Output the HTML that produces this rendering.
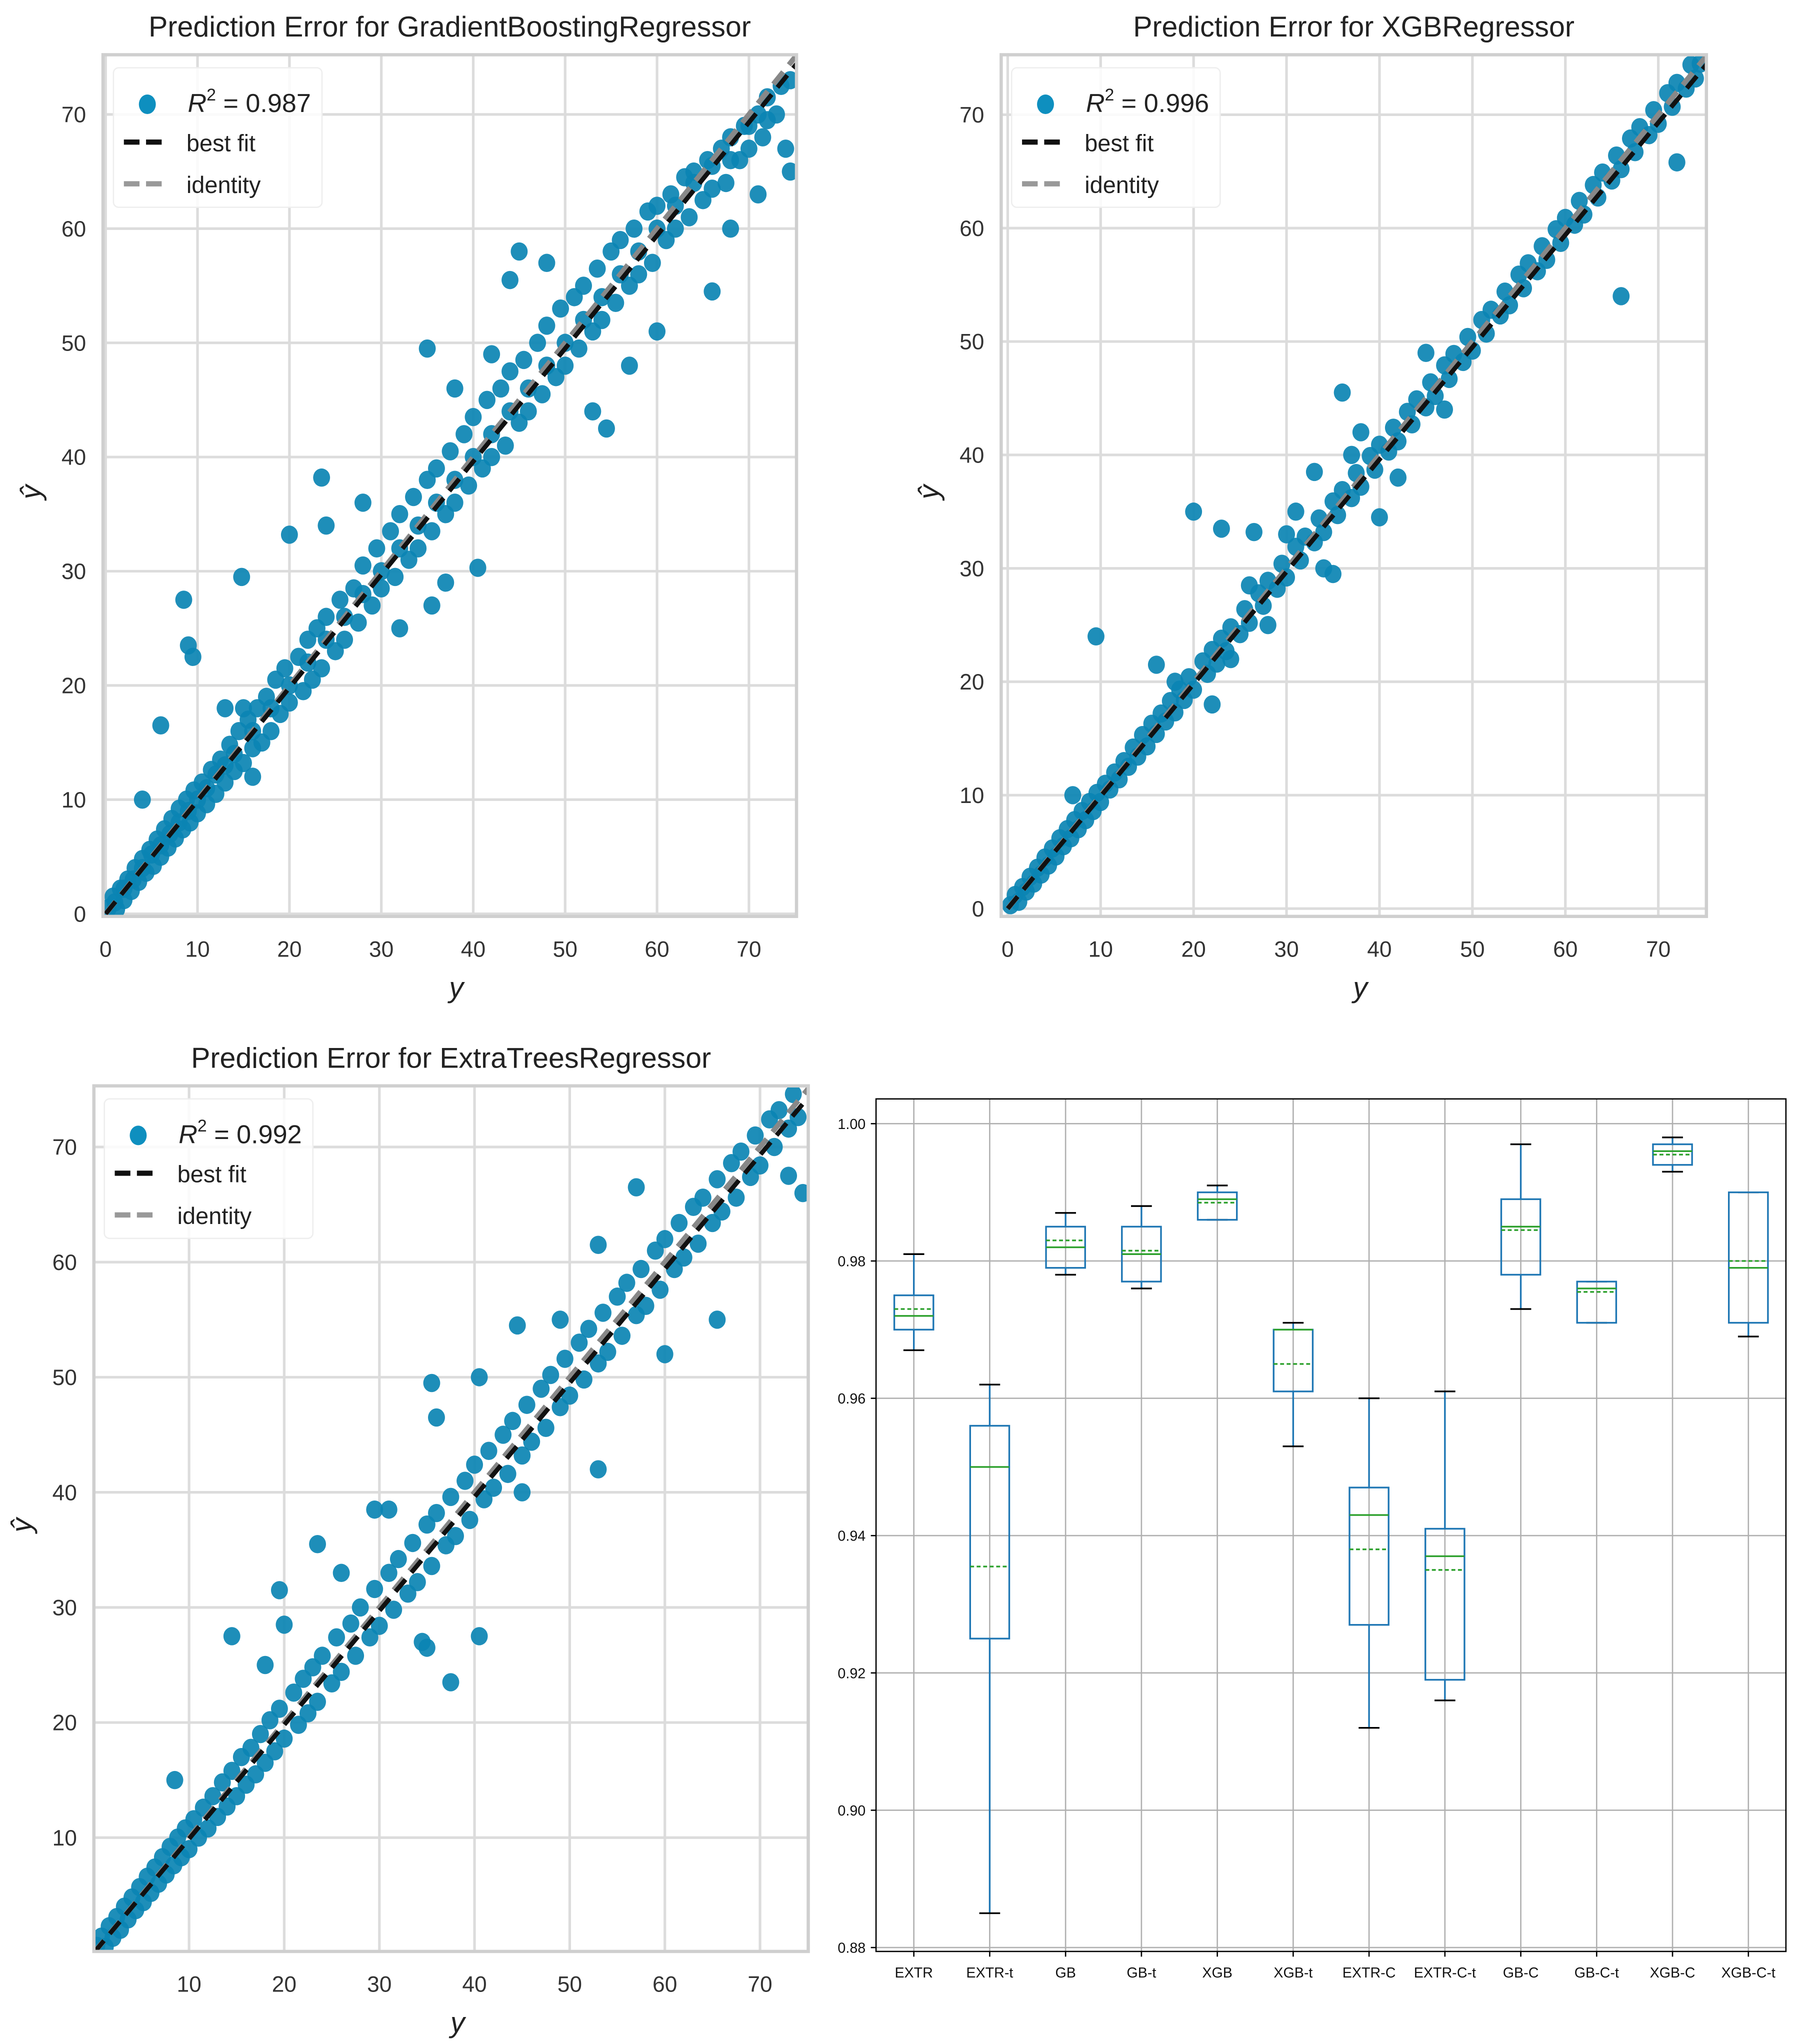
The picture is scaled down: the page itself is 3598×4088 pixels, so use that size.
<!DOCTYPE html>
<html><head><meta charset="utf-8">
<style>
html,body{margin:0;padding:0;background:#fff;}
svg{display:block;font-family:"Liberation Sans","DejaVu Sans",sans-serif;}
</style></head>
<body>
<svg id="fig" width="3598" height="4088" viewBox="0 0 1380 1568" xmlns="http://www.w3.org/2000/svg"></svg>
<script>
// ---------- Data: GradientBoosting panel  [y, yhat] ----------
const gbPoints = [
[0.3,0.5],[0.8,1.5],[1.2,0.4],[1.6,2.2],[2,1.2],[2.4,3],[2.8,2],[3.2,4],[3.6,2.8],[4,4.8],[4.4,3.6],[4.8,5.6],[5.2,4.2],[5.6,6.5],[6,5],[6.4,7.4],[6.8,5.8],[7.2,8.3],[7.6,6.6],[8,9.2],[8.4,7.4],[8.8,10],[9.2,8],[9.6,10.8],[10,8.8],[10.5,11.5],[11,9.6],[11.5,12.6],[12,10.5],[12.5,13.5],[13,11.5],[13.5,14.8],[14,12.5],[14.5,16],[15,13.2],[15.5,17],[16,14.5],[16.5,18],[17,15],[17.5,19],[18,16],[18.5,20.5],[19,17.5],[19.5,21.5],[20,18.5],[21,22.5],[21.5,19.5],[22,24],[22.5,20.5],[23,25],[23.5,21.5],[24,26],[25,23],[25.5,27.5],[26,24],[27,28.5],[27.5,25.5],[28,30.5],[29,27],[29.5,32],[30,28.5],[31,33.5],[31.5,29.5],[32,35],[33,31],[33.5,36.5],[34,32],[35,38],[35.5,33.5],[36,39],[37,35],[37.5,40.5],[38,36],[39,42],[39.5,37.5],[40,43.5],[41,39],[41.5,45],[42,40],[43,46],[43.5,41],[44,47.5],[45,43],[45.5,48.5],[46,44],[47,50],[47.5,45.5],[48,51.5],[49,47],[49.5,53],[50,48],[51,54],[51.5,49.5],[52,55],[53,51],[53.5,56.5],[54,52],[55,58],[55.5,53.5],[56,59],[57,55],[57.5,60],[58,56],[59,61.5],[59.5,57],[60,62],[61,59],[61.5,63],[62,60],[63,64.5],[63.5,61],[64,65],[65,62.5],[65.5,66],[66,63.5],[67,67],[67.5,64],[68,68],[69,66],[69.5,69],[70,67],[71,70],[71.5,68],[72,71.5],[73,70],[73.5,72.5],[74,67],[74.5,73],
[1,1],[2,2.2],[3,3],[4,4],[5,5.2],[6,6],[7,7],[8,8],[9,9],[10,10],[11,11],[12,12.2],[13,13],[14,14],[16,16],[18,18],[20,20],[22,22],[24,24],[26,26],[28,28],[30,30],[32,32],[34,34],[36,36],[38,38],[40,40],[42,42],[44,44],[46,46],[48,48],[50,50],[52,52],[54,54],[56,56],[58,58],[60,60],[62,62],[64,64],[66,65.5],[68,66],[70,69],[72,69.5],
[8.5,27.5],[9,23.5],[9.5,22.5],[14.8,29.5],[20,33.2],[23.5,38.2],[40.5,30.3],[44,55.5],[35,49.5],[35.5,27],[45,58],[53,44],[54.5,42.5],[66,54.5],[60,51],[74.5,65],[6,16.5],[15,18],[13,18],[24,34],[28,36],[38,46],[42,49],[48,57],[57,48],[32,25],[37,29],[16,12],[4,10],[71,63],[68,60]
];
// ---------- Data: XGB panel ----------
const xgbPoints = [
[0.3,0.3],[0.8,1.2],[1.2,0.6],[1.6,1.9],[2,1.5],[2.4,2.8],[2.8,2.2],[3.2,3.6],[3.6,3],[4,4.5],[4.4,3.8],[4.8,5.3],[5.2,4.6],[5.6,6.2],[6,5.5],[6.4,7],[6.8,6.2],[7.2,7.8],[7.6,7],[8,8.6],[8.4,7.8],[8.8,9.4],[9.2,8.6],[9.6,10.2],[10,9.4],[10.5,11],[11,10.5],[11.5,12],[12,11.4],[12.5,13],[13,12.5],[13.5,14.2],[14,13.4],[14.5,15.3],[15,14.3],[15.5,16.3],[16,15.4],[16.5,17.2],[17,16.5],[17.5,18.3],[18,17.3],[18.5,19.3],[19,18.4],[19.5,20.4],[20,19.3],[21,21.8],[21.5,20.7],[22,22.8],[22.5,21.6],[23,23.8],[23.5,22.7],[24,24.8],[25,24.2],[25.5,26.4],[26,25.2],[27,27.8],[27.5,26.7],[28,28.9],[29,28.2],[29.5,30.4],[30,29.2],[31,31.9],[31.5,30.7],[32,32.8],[33,32.3],[33.5,34.4],[34,33.2],[35,35.9],[35.5,34.7],[36,36.9],[37,36.2],[37.5,38.4],[38,37.2],[39,39.9],[39.5,38.7],[40,40.9],[41,40.3],[41.5,42.4],[42,41.2],[43,43.8],[43.5,42.7],[44,44.9],[45,44.2],[45.5,46.4],[46,45.2],[47,47.9],[47.5,46.7],[48,48.9],[49,48.2],[49.5,50.4],[50,49.2],[51,51.9],[51.5,50.7],[52,52.8],[53,52.3],[53.5,54.4],[54,53.2],[55,55.9],[55.5,54.7],[56,56.9],[57,56.2],[57.5,58.4],[58,57.2],[59,59.9],[59.5,58.7],[60,60.9],[61,60.3],[61.5,62.4],[62,61.2],[63,63.8],[63.5,62.7],[64,64.9],[65,64.2],[65.5,66.4],[66,65.2],[67,67.9],[67.5,66.7],[68,68.9],[69,68.2],[69.5,70.4],[70,69.2],[71,71.9],[71.5,70.7],[72,72.8],[73,72.3],[73.5,74.4],[74,73.2],[74.5,74.5],
[9.5,24],[20,35],[23,33.5],[26.5,33.2],[36,45.5],[40,34.5],[16,21.5],[22,18],[33,38.5],[34,30],[35,29.5],[31,35],[28,25],[38,42],[30,33],[72,65.8],[66,54],[7,10],[18,20],[24,22],[45,49],[42,38],[47,44],[37,40],[26,28.5]
];
// ---------- Data: ExtraTrees panel ----------
const etPoints = [
[0.3,0.6],[0.8,1.4],[1.2,0.5],[1.6,2.3],[2,1.3],[2.4,3.1],[2.8,2],[3.2,4],[3.6,2.9],[4,4.8],[4.4,3.7],[4.8,5.7],[5.2,4.4],[5.6,6.6],[6,5.2],[6.4,7.4],[6.8,6],[7.2,8.3],[7.6,6.8],[8,9.2],[8.4,7.6],[8.8,10],[9.2,8.3],[9.6,10.8],[10,9],[10.5,11.6],[11,10],[11.5,12.6],[12,10.8],[12.5,13.6],[13,11.8],[13.5,14.8],[14,12.7],[14.5,15.8],[15,13.6],[15.5,17],[16,14.6],[16.5,17.8],[17,15.5],[17.5,19],[18,16.5],[18.5,20.2],[19,17.5],[19.5,21.2],[20,18.6],[21,22.6],[21.5,19.8],[22,23.8],[22.5,20.8],[23,24.8],[23.5,21.8],[24,25.8],[25,23.4],[25.5,27.4],[26,24.4],[27,28.6],[27.5,25.8],[28,30],[29,27.4],[29.5,31.6],[30,28.4],[31,33],[31.5,29.8],[32,34.2],[33,31.2],[33.5,35.6],[34,32.2],[35,37.2],[35.5,33.6],[36,38.2],[37,35.4],[37.5,39.6],[38,36.2],[39,41],[39.5,37.6],[40,42.4],[41,39.4],[41.5,43.6],[42,40.4],[43,45],[43.5,41.6],[44,46.2],[45,43.2],[45.5,47.6],[46,44.4],[47,49],[47.5,45.6],[48,50.2],[49,47.4],[49.5,51.6],[50,48.4],[51,53],[51.5,49.8],[52,54.2],[53,51.2],[53.5,55.6],[54,52.2],[55,57],[55.5,53.6],[56,58.2],[57,55.4],[57.5,59.4],[58,56.2],[59,61],[59.5,57.6],[60,62],[61,59.4],[61.5,63.4],[62,60.4],[63,64.8],[63.5,61.6],[64,65.6],[65,63.4],[65.5,67.2],[66,64.4],[67,68.6],[67.5,65.6],[68,69.6],[69,67.4],[69.5,71],[70,68.4],[71,72.4],[71.5,70],[72,73.2],[73,71.6],[73.5,74.6],[74,72.6],
[8.5,15],[14.5,27.5],[19.5,31.5],[23.5,35.5],[36,46.5],[35.5,49.5],[40.5,50],[40.5,27.5],[37.5,23.5],[34.5,27],[35,26.5],[29.5,38.5],[31,38.5],[53,42],[57,66.5],[65.5,55],[73,67.5],[74.5,66],[20,28.5],[44.5,54.5],[53,61.5],[26,33],[18,25],[45,40],[60,52],[49,55]
];
// ---------- Data: box plot ----------
const boxCats = ["EXTR","EXTR-t","GB","GB-t","XGB","XGB-t","EXTR-C","EXTR-C-t","GB-C","GB-C-t","XGB-C","XGB-C-t"];
const boxLow  = [0.967,0.885,0.978,0.976,0.986,0.953,0.912,0.916,0.973,0.971,0.993,0.969];
const boxQ1   = [0.970,0.925,0.979,0.977,0.986,0.961,0.927,0.919,0.978,0.971,0.994,0.971];
const boxMed  = [0.972,0.950,0.982,0.981,0.989,0.970,0.943,0.937,0.985,0.976,0.996,0.979];
const boxQ3   = [0.975,0.956,0.985,0.985,0.990,0.970,0.947,0.941,0.989,0.977,0.997,0.990];
const boxHigh = [0.981,0.962,0.987,0.988,0.991,0.971,0.960,0.961,0.997,0.977,0.998,0.990];
const boxMean = [0.973,0.9355,0.983,0.9815,0.9885,0.965,0.938,0.935,0.9845,0.9755,0.9955,0.980];
const boxTicks = [0.88,0.90,0.92,0.94,0.96,0.98,1.00];
const scatterTicks = [0,10,20,30,40,50,60,70];

const NS="http://www.w3.org/2000/svg";
const svg=document.getElementById('fig');
function mk(tag,attrs,parent){const e=document.createElementNS(NS,tag);for(const k in attrs)e.setAttribute(k,attrs[k]);(parent||svg).appendChild(e);return e;}

function scatterPanel(o){
  const g=mk('g',{});
  
  
  const X=v=>o.x0+v*o.kx, Y=v=>o.y0-v*o.ky;
  mk('rect',{x:o.L,y:o.T,width:o.R-o.L,height:o.B-o.T,fill:'#fff'},g);
  scatterTicks.forEach(t=>{
    if(t>=o.xmin){const x=X(t);mk('line',{x1:x,x2:x,y1:o.T,y2:o.B,stroke:'#dcdcdc','stroke-width':2},g);
      const tl=mk('text',{x:x,y:o.B+31,'text-anchor':'middle','font-size':17,fill:'#333'},g);tl.textContent=t;
      
      }
    if(t>=o.ymin){const y=Y(t);mk('line',{x1:o.L,x2:o.R,y1:y,y2:y,stroke:'#dcdcdc','stroke-width':2},g);
      const tl=mk('text',{x:o.L-13,y:y+6,'text-anchor':'end','font-size':17,fill:'#333'},g);tl.textContent=t;
      
      }
  });
  const cp=mk('clipPath',{id:'c'+o.name},g);mk('rect',{x:o.L,y:o.T,width:o.R-o.L,height:o.B-o.T},cp);
  const pg=mk('g',{'clip-path':'url(#c'+o.name+')'},g);
  o.pts.forEach(p=>{
    const c=mk('ellipse',{cx:X(p[0]),cy:Y(p[1]),rx:6.5,ry:7,fill:'#0b84b3','fill-opacity':0.92},pg);
    
    
  });
  const mx=(o.R-o.x0)/o.kx;
  const idl=mk('line',{x1:X(0),y1:Y(0),x2:X(mx),y2:Y(mx),stroke:'#888','stroke-width':4,'stroke-dasharray':'12,7'},pg);
  
  
  const bf=mk('line',{x1:X(0),y1:Y(0),x2:X(mx),y2:Y(mx*0.99),stroke:'#111','stroke-width':3.5,'stroke-dasharray':'12,7'},pg);
  
  
  mk('rect',{x:o.L,y:o.T,width:o.R-o.L,height:o.B-o.T,fill:'none',stroke:'#cfcfcf','stroke-width':2.5},g);
  const lx=o.L+8,ly=o.T+10;
  const lg=mk('g',{},g);
  
  
  mk('rect',{x:lx,y:ly,width:160,height:107,rx:4,fill:'#fff','fill-opacity':0.85,stroke:'#eee'},lg);
  mk('ellipse',{cx:lx+26,cy:ly+28,rx:6.5,ry:7.5,fill:'#0e8fbf'},lg);
  const rt=mk('text',{x:lx+57,y:ly+34,'font-size':20,fill:'#222'},lg);
  rt.innerHTML='<tspan font-style="italic">R</tspan><tspan dy="-9" font-size="13">2</tspan><tspan dy="9"> = '+o.r2+'</tspan>';
  mk('line',{x1:lx+8,x2:lx+40,y1:ly+57,y2:ly+57,stroke:'#111','stroke-width':4,'stroke-dasharray':'12,5'},lg);
  const t1=mk('text',{x:lx+56,y:ly+64,'font-size':18,fill:'#222'},lg);t1.textContent='best fit';
  mk('line',{x1:lx+8,x2:lx+40,y1:ly+89,y2:ly+89,stroke:'#999','stroke-width':4,'stroke-dasharray':'12,5'},lg);
  const t2=mk('text',{x:lx+56,y:ly+96,'font-size':18,fill:'#222'},lg);t2.textContent='identity';
  const tt=mk('text',{x:(o.L+o.R)/2,y:o.T-14,'text-anchor':'middle','font-size':22,fill:'#222'},g);tt.textContent=o.title;
  
  
  const xl=mk('text',{x:(o.L+o.R)/2+5,y:o.B+62,'text-anchor':'middle','font-size':22,'font-style':'italic',fill:'#222'},g);xl.textContent='y';
  
  
  const yl=mk('text',{x:o.L-48,y:(o.T+o.B)/2+5,'text-anchor':'middle','font-size':22,'font-style':'italic',fill:'#222',transform:'rotate(-90 '+(o.L-48)+' '+((o.T+o.B)/2+5)+')'},g);yl.textContent='ŷ';
  
  
}

scatterPanel({name:'gb-panel',title:'Prediction Error for GradientBoostingRegressor',L:79,R:611,T:42,B:703,x0:81,kx:7.05,y0:701,ky:8.76,xmin:0,ymin:0,pts:gbPoints,r2:'0.987'});
scatterPanel({name:'xgb-panel',title:'Prediction Error for XGBRegressor',L:768,R:1309,T:42,B:703,x0:773,kx:7.13,y0:697,ky:8.7,xmin:0,ymin:0,pts:xgbPoints,r2:'0.996'});
scatterPanel({name:'et-panel',title:'Prediction Error for ExtraTreesRegressor',L:72,R:620,T:833,B:1497,x0:72,kx:7.3,y0:1498,ky:8.83,xmin:10,ymin:10,pts:etPoints,r2:'0.992'});

(function(){
  const L=672,R=1370,T=843,B=1497;
  const g=mk('g',{});
  
  
  const Y=v=>862+(1.0-v)*5266.7;
  const X=i=>701+i*58.2;
  mk('rect',{x:L,y:T,width:R-L,height:B-T,fill:'#fff'},g);
  boxTicks.forEach(t=>{const y=Y(t);mk('line',{x1:L,x2:R,y1:y,y2:y,stroke:'#b0b0b0','stroke-width':1},g);
    mk('line',{x1:L-4,x2:L,y1:y,y2:y,stroke:'#000'},g);
    const tl=mk('text',{x:L-8,y:y+4,'text-anchor':'end','font-size':11,fill:'#111'},g);tl.textContent=t.toFixed(2);
    
    });
  boxCats.forEach((c,i)=>{
    const x=X(i);
    mk('line',{x1:x,x2:x,y1:T,y2:B,stroke:'#b0b0b0','stroke-width':1},g);
    mk('line',{x1:x,x2:x,y1:B,y2:B+4,stroke:'#000'},g);
    const tl=mk('text',{x:x,y:B+20,'text-anchor':'middle','font-size':11,fill:'#111'},g);tl.textContent=c;
    
    
    const bg=mk('g',{},g);
    
    
    mk('line',{x1:x,x2:x,y1:Y(boxHigh[i]),y2:Y(boxQ3[i]),stroke:'#1f77b4','stroke-width':1.3},bg);
    mk('line',{x1:x,x2:x,y1:Y(boxQ1[i]),y2:Y(boxLow[i]),stroke:'#1f77b4','stroke-width':1.3},bg);
    mk('line',{x1:x-8,x2:x+8,y1:Y(boxHigh[i]),y2:Y(boxHigh[i]),stroke:'#000','stroke-width':1.3},bg);
    mk('line',{x1:x-8,x2:x+8,y1:Y(boxLow[i]),y2:Y(boxLow[i]),stroke:'#000','stroke-width':1.3},bg);
    mk('rect',{x:x-15,y:Y(boxQ3[i]),width:30,height:Math.max(Y(boxQ1[i])-Y(boxQ3[i]),0.5),fill:'none',stroke:'#1f77b4','stroke-width':1.3},bg);
    mk('line',{x1:x-15,x2:x+15,y1:Y(boxMed[i]),y2:Y(boxMed[i]),stroke:'#2ca02c','stroke-width':1.3},bg);
    mk('line',{x1:x-15,x2:x+15,y1:Y(boxMean[i]),y2:Y(boxMean[i]),stroke:'#2ca02c','stroke-width':1.3,'stroke-dasharray':'3,2'},bg);
  });
  mk('rect',{x:L,y:T,width:R-L,height:B-T,fill:'none',stroke:'#000','stroke-width':1},g);
})();
</script>
</body></html>
